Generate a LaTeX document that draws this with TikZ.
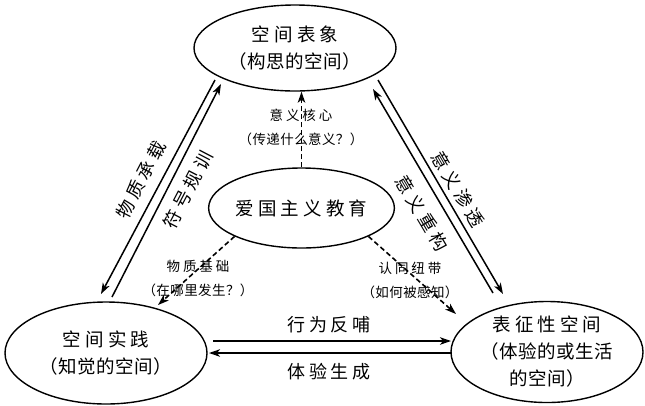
\documentclass[tikz,border=0pt]{standalone}
\usepackage{fontspec}
\setmainfont[LetterSpace=3]{Noto Sans CJK SC}
\newfontfamily\widefont[LetterSpace=22]{Noto Sans CJK SC}
\usepackage{tikz}
\usetikzlibrary{shapes.geometric,arrows.meta}
\pgfdeclarelayer{nodelayer}
\pgfdeclarelayer{edgelayer}
\pgfsetlayers{edgelayer,nodelayer,main}
\tikzstyle{oval}=[draw=black, shape=ellipse, line width=1.4pt, inner sep=0pt, align=center, font=\fontsize{18.5}{27}\selectfont]
\tikzstyle{point}=[inner sep=0pt, minimum size=0pt]
\tikzstyle{directed edge}=[-{Stealth[length=11pt,width=7.5pt,inset=3pt]}, line width=1.5pt]
\tikzstyle{dashed edge}=[directed edge, line width=1.6pt, dash pattern=on 5pt off 3pt]
\tikzstyle{side label}=[inner sep=0pt, font=\fontsize{18}{20}\selectfont\widefont]
\tikzstyle{small label}=[inner sep=0pt, align=center, font=\fontsize{13.5}{24}\selectfont]

\begin{document}
\begin{tikzpicture}[x=1pt, y=-1pt]
    \useasboundingbox (0,0) rectangle (645,405);
    	\begin{pgfonlayer}{nodelayer}
    		\node [style=oval, minimum width=202pt, minimum height=86pt] (0) at (295, 48) {{\widefont 空间表象}\\（构思的空间）};
    		\node [style=oval, minimum width=147pt, minimum height=80pt] (1) at (301.5, 208) {\widefont 爱国主义教育};
    		\node [style=oval, minimum width=202pt, minimum height=102pt] (2) at (106, 353) {{\widefont 空间实践}\\（知觉的空间）};
    		\node [style=oval, minimum width=192pt, minimum height=100pt] (3) at (547, 352) {{\widefont 表征性空间}\\（体验的或生活\\的空间）};
    		\node [style=point] (4) at (215, 80) {};
    		\node [style=point] (5) at (101, 294) {};
    		\node [style=point] (6) at (112, 297) {};
    		\node [style=point] (7) at (221, 84) {};
    		\node [style=point] (8) at (493, 293) {};
    		\node [style=point] (9) at (373, 89) {};
    		\node [style=point] (10) at (378, 80) {};
    		\node [style=point] (11) at (503, 294) {};
    		\node [style=point] (12) at (213, 341) {};
    		\node [style=point] (13) at (451, 341) {};
    		\node [style=point] (14) at (452, 353) {};
    		\node [style=point] (15) at (209, 353) {};
    		\node [style=point] (16) at (158, 305) {};
    		\node [style=point] (17) at (456, 314) {};
    		\node [style=side label, rotate=62.5] (18) at (141, 180) {物质承载};
    		\node [style=side label, rotate=62.5] (19) at (188, 190) {符号规训};
    		\node [style=side label, rotate=-59.5] (20) at (458, 189) {意义渗透};
    		\node [style=side label, rotate=-59.5] (21) at (422, 213) {意义重构};
    		\node [style=side label] (22) at (329, 325) {行为反哺};
    		\node [style=side label] (23) at (329, 372) {体验生成};
    		\node [style=small label] (24) at (301, 127) {{\widefont 意义核心}\\（传递什么意义？）};
    		\node [style=small label] (25) at (198, 278) {{\widefont 物质基础}\\（在哪里发生？）};
    		\node [style=small label] (26) at (410, 280) {{\widefont 认同纽带}\\（如何被感知）};
    	\end{pgfonlayer}
    	\begin{pgfonlayer}{edgelayer}
    		\draw [style=directed edge] (4.center) to (5.center);
    		\draw [style=directed edge] (6.center) to (7.center);
    		\draw [style=directed edge] (8.center) to (9.center);
    		\draw [style=directed edge] (10.center) to (11.center);
    		\draw [style=directed edge] (12.center) to (13.center);
    		\draw [style=directed edge] (14.center) to (15.center);
    		\draw [style=dashed edge] (1.north) to (1.north |- 0.south);
    		\draw [style=dashed edge] (1.203) to (16.center);
    		\draw [style=dashed edge] (1.337) to (17.center);
    	\end{pgfonlayer}
    \end{tikzpicture}
\end{document}
